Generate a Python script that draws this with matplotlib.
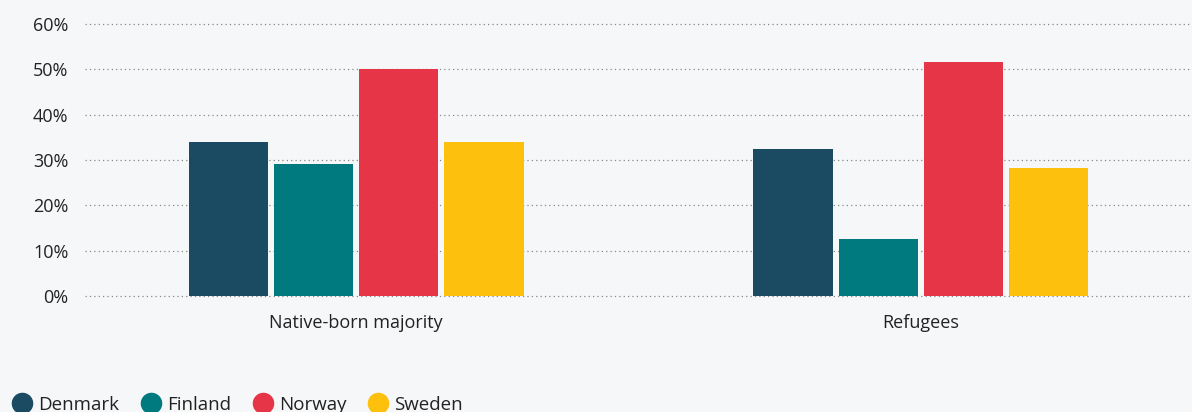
import matplotlib.pyplot as plt
import numpy as np
from matplotlib.lines import Line2D

plt.rcParams['font.family'] = ['Open Sans', 'DejaVu Sans']

# data (share, %)
groups = ['Native-born majority', 'Refugees']
countries = ['Denmark', 'Finland', 'Norway', 'Sweden']
denmark = [33.9, 32.4]
finland = [29.1, 12.5]
norway = [50.0, 51.6]
sweden = [33.9, 28.2]
colors = ['#1b4a63', '#007a7f', '#e63546', '#fcc00d']

bg = '#f6f7f9'
fig = plt.figure(figsize=(11.92, 4.12), dpi=100, facecolor=bg)
ax = fig.add_axes([85 / 1192, 1 - 296 / 412, 1 - 85 / 1192, 272 / 412])
ax.set_facecolor(bg)

x = np.arange(len(groups))
width = 0.14
pitch = 0.151
series = [denmark, finland, norway, sweden]
for i, (vals, c) in enumerate(zip(series, colors)):
    ax.bar(x + (i - 1.5) * pitch, vals, width, color=c, zorder=3)

ax.set_xlim(-0.48, 1.48)
ax.set_ylim(0, 60)
ax.set_yticks(np.arange(0, 61, 10))
ax.set_yticklabels([f'{v}%' for v in range(0, 61, 10)])
ax.set_xticks(x)
ax.set_xticklabels(groups)
ax.tick_params(axis='both', length=0, labelsize=13, colors='#222222')
ax.tick_params(axis='y', pad=12)
ax.tick_params(axis='x', pad=13)
ax.grid(axis='y', linestyle=(0, (1, 2.5)), color='#888888', linewidth=0.9, zorder=0)
for gl in ax.get_ygridlines():
    gl.set_clip_on(False)
for s in ax.spines.values():
    s.set_visible(False)

handles = [Line2D([], [], marker='o', linestyle='None', markersize=14.5,
                  markerfacecolor=c, markeredgecolor=c) for c in colors]
fig.legend(handles, countries, loc='upper left', bbox_to_anchor=(12 / 1192, 1 - 396 / 412),
           ncol=4, frameon=False, fontsize=13.5, handletextpad=0.3, columnspacing=1.15,
           borderaxespad=0, borderpad=0, handlelength=1.1, labelcolor='#222222')

fig.savefig('out.png', dpi=100, facecolor=bg)
